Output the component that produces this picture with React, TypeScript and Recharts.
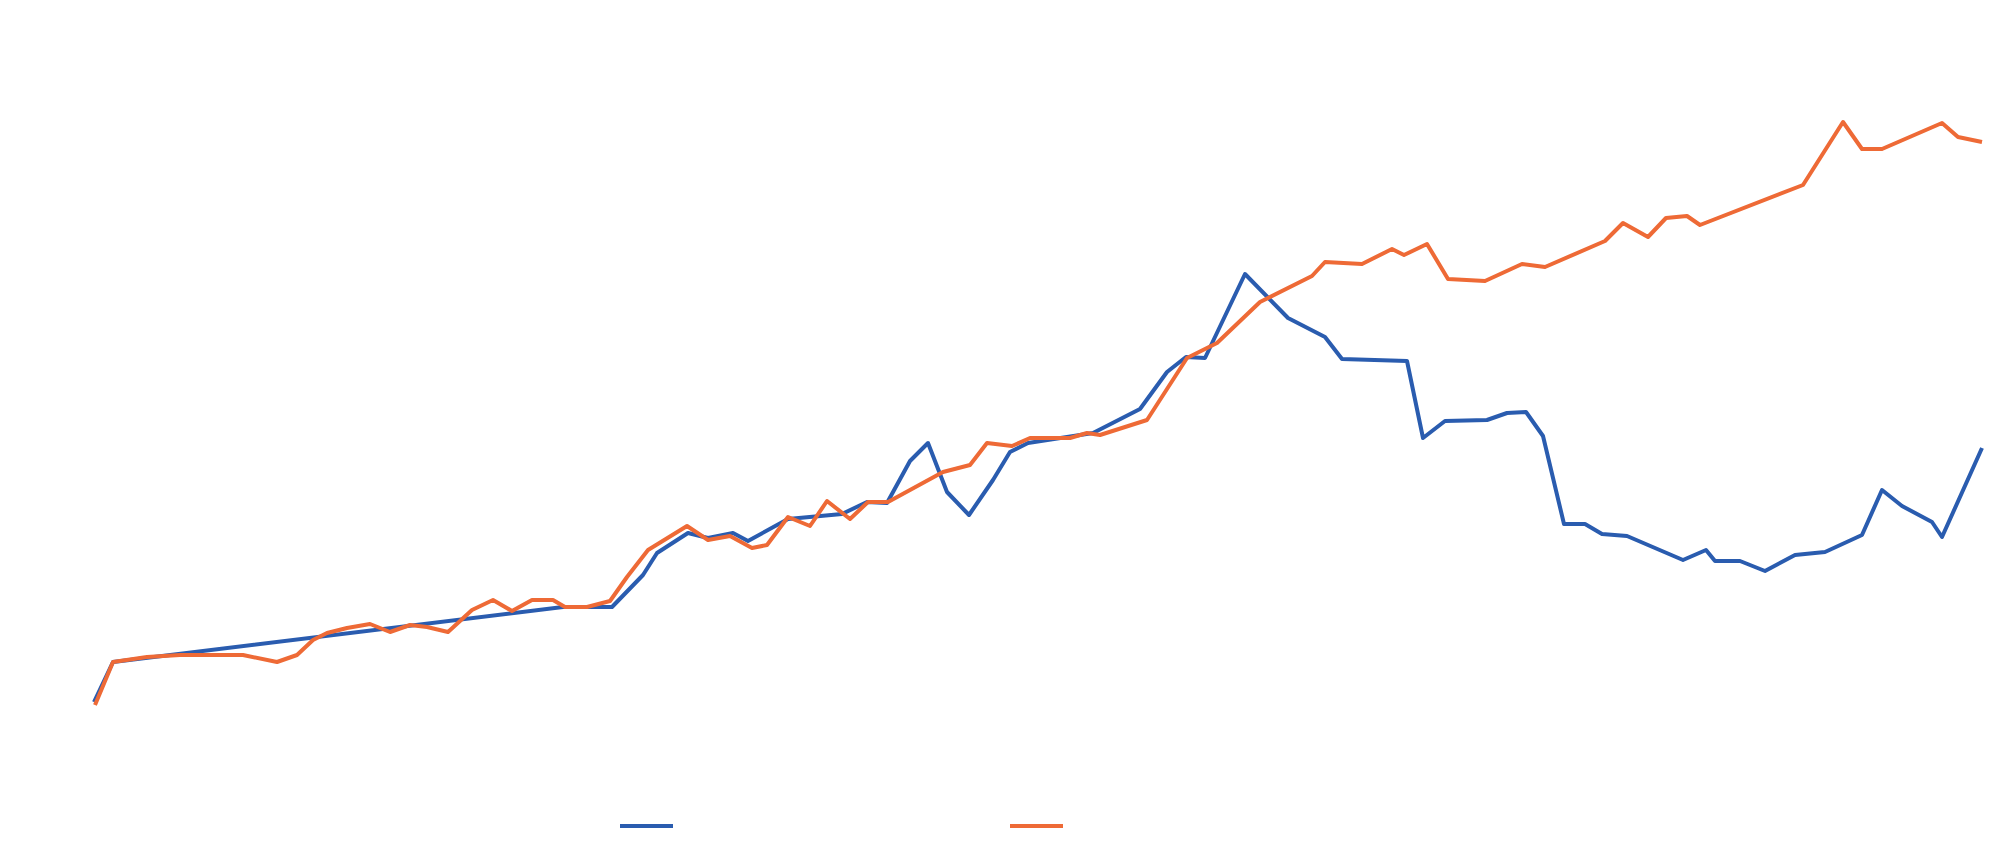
import { LineChart, Line, XAxis, YAxis } from "recharts";

// day offsets and values
const blueDays = [
  4, 23, 473, 522, 553, 567, 598, 618, 643, 658, 698, 752, 777, 797, 820, 838,
  857, 879, 903, 920, 938, 977, 1003, 1050, 1077, 1096, 1115, 1155, 1198, 1235,
  1252, 1317, 1333, 1355, 1397, 1417, 1436, 1453, 1474, 1495, 1512, 1537, 1593,
  1616, 1625, 1650, 1675, 1705, 1735, 1772, 1792, 1812, 1842, 1852, 1892,
];
const blueValues = [
  9.6, 17.6, 28.6, 28.6, 35, 39.4, 43.4, 42.4, 43.4, 41.8, 46.2, 47.2, 49.6,
  49.4, 57.8, 61.4, 51.6, 47, 54, 59.6, 61.4, 62.6, 63.4, 68.2, 75.6, 78.6,
  78.4, 95.2, 86.4, 82.6, 78.2, 77.8, 62.4, 65.8, 66, 67.4, 67.6, 62.8, 45.2,
  45.2, 43.2, 42.8, 38, 40, 37.8, 37.8, 35.8, 39, 39.6, 43, 52, 48.8, 45.6,
  42.6, 60.4,
];

const orangeDays = [
  5, 23, 57, 90, 153, 187, 207, 223, 237, 257, 280, 300, 320, 337, 358, 382,
  403, 422, 442, 463, 475, 497, 520, 537, 558, 597, 618, 640, 662, 677, 698,
  720, 737, 760, 778, 798, 853, 880, 897, 922, 940, 980, 997, 1010, 1057, 1097,
  1127, 1170, 1222, 1235, 1272, 1302, 1314, 1337, 1358, 1395, 1432, 1455, 1515,
  1533, 1558, 1576, 1597, 1610, 1713, 1753, 1772, 1792, 1852, 1868, 1892,
];
const orangeValues = [
  9, 17.6, 18.6, 19, 19, 17.6, 19, 22, 23.4, 24.4, 25.2, 23.6, 25, 24.6, 23.6,
  28, 30, 27.8, 30, 30, 28.6, 28.6, 29.8, 34.6, 40, 44.8, 42, 42.8, 40.4, 41,
  46.6, 44.8, 49.8, 46.2, 49.6, 49.6, 55.6, 57, 61.4, 60.8, 62.4, 62.4, 63.4,
  63, 66, 78.4, 81.4, 89.6, 94.8, 97.6, 97.2, 100.2, 99, 101.2, 94.2, 93.8,
  97.2, 96.6, 101.8, 105.4, 102.6, 106.4, 106.8, 105, 113, 125.6, 120.2, 120.2,
  125.4, 122.6, 121.6,
];

const BLUE = "#2A5CAF";
const ORANGE = "#EE6A36";

const blueData = blueDays.map((day, i) => ({ day, value: blueValues[i] }));
const orangeData = orangeDays.map((day, i) => ({ day, value: orangeValues[i] }));

export default function App() {
  return (
    <div
      style={{
        position: "absolute",
        left: 0,
        top: 0,
        width: 2000,
        height: 851,
        background: "#fff",
      }}
    >
      <LineChart
        width={2000}
        height={851}
        margin={{ top: 100, right: 10, bottom: 101, left: 90 }}
      >
        <XAxis type="number" dataKey="day" domain={[0, 1900]} hide />
        <YAxis type="number" domain={[0, 130]} hide />
        <Line
          data={blueData}
          dataKey="value"
          type="linear"
          stroke={BLUE}
          strokeWidth={4}
          strokeLinejoin="round"
          dot={false}
          isAnimationActive={false}
        />
        <Line
          data={orangeData}
          dataKey="value"
          type="linear"
          stroke={ORANGE}
          strokeWidth={4}
          strokeLinejoin="round"
          dot={false}
          isAnimationActive={false}
        />
      </LineChart>
      {/* legend keys only, no labels in the original */}
      <div style={{ position: "absolute", left: 620, top: 824, width: 53, height: 4, background: BLUE }} />
      <div style={{ position: "absolute", left: 1010, top: 824, width: 53, height: 4, background: ORANGE }} />
    </div>
  );
}
